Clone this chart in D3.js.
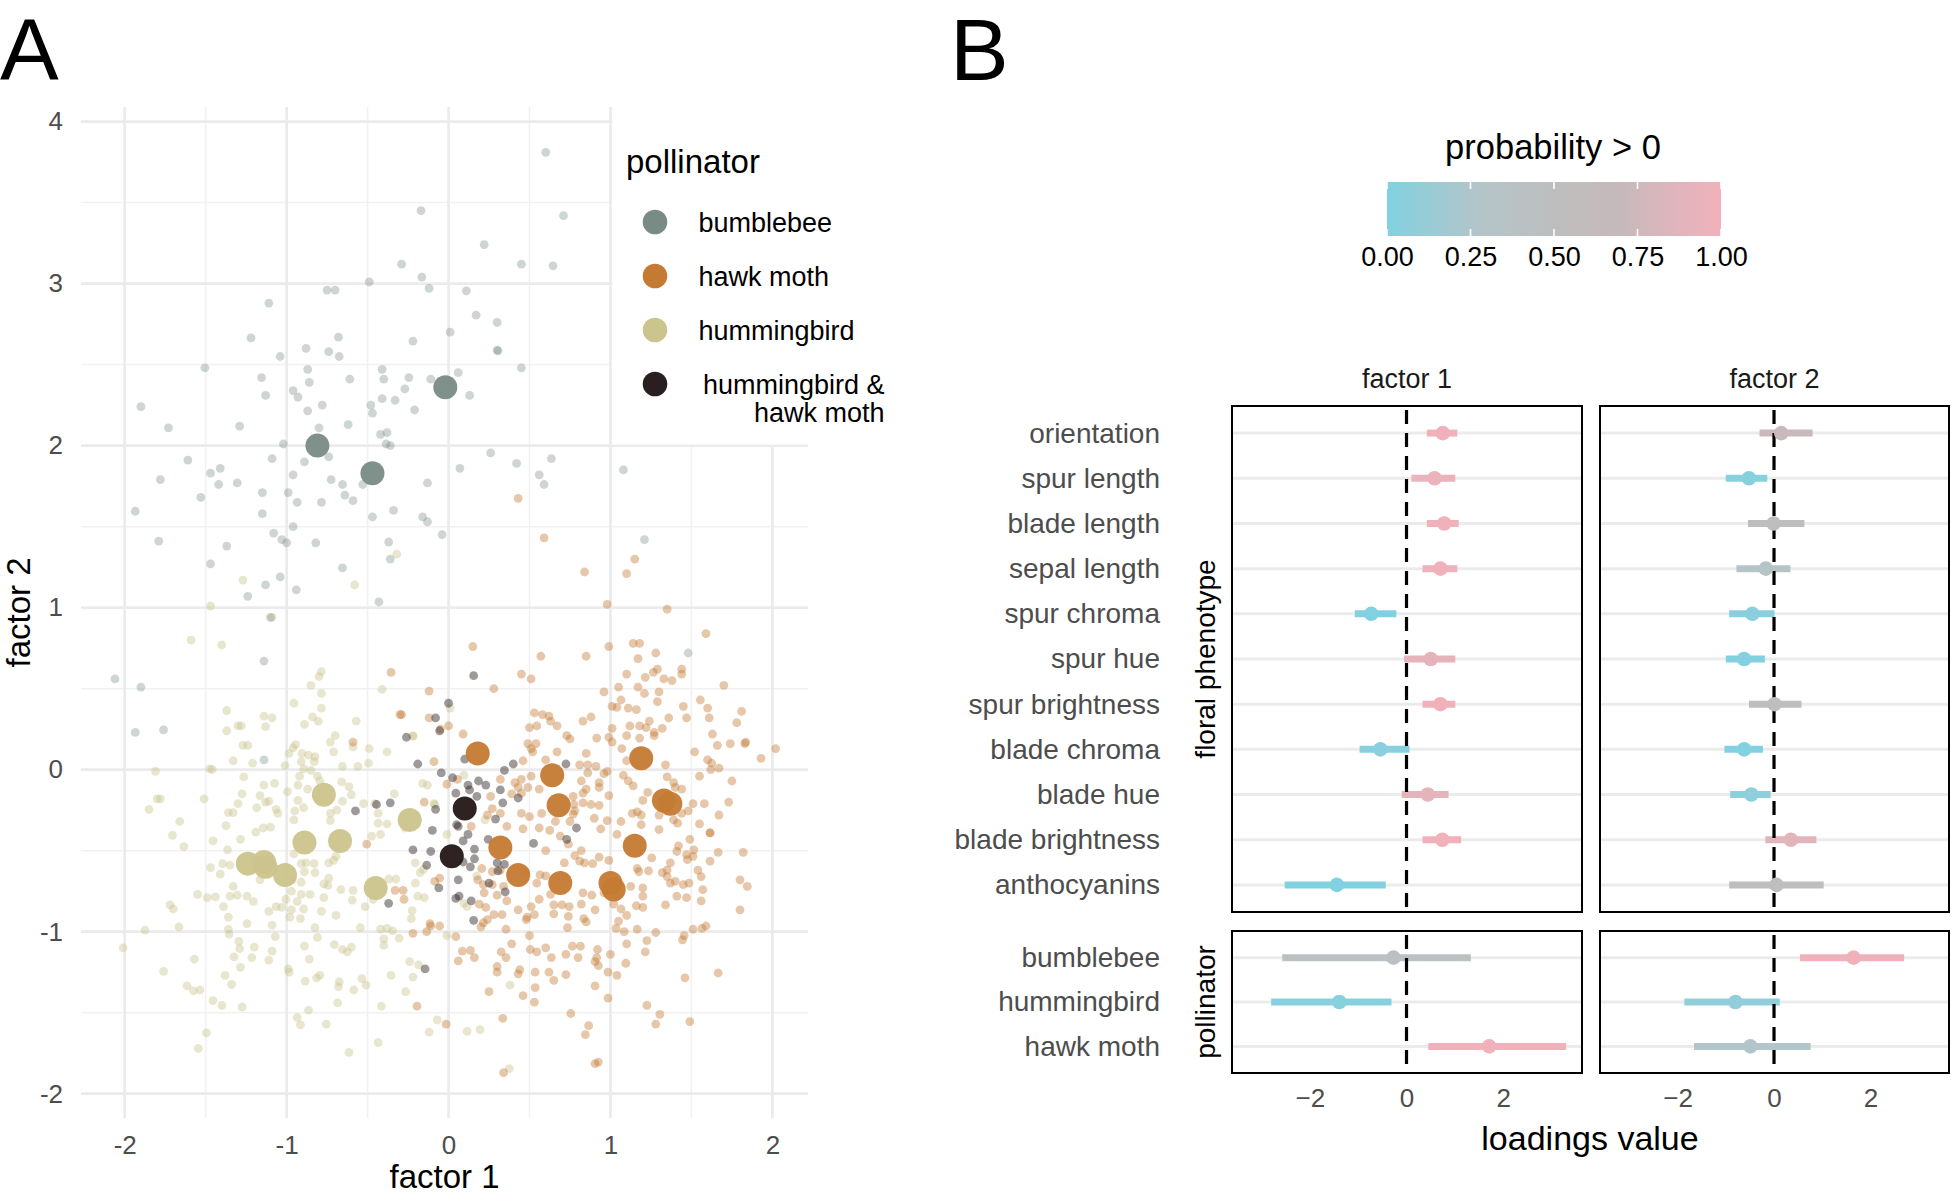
<!DOCTYPE html>
<html><head><meta charset="utf-8">
<script src="https://cdn.jsdelivr.net/npm/d3@7"></script>
<style>body{margin:0;background:#fff} text{font-family:"Liberation Sans",Arial,Helvetica,sans-serif}</style>
</head><body><svg id="c" width="1951" height="1195"></svg>
<script>
// ---------------- DATA: panel A ----------------
const pollinatorGroups = ["bumblebee","hawk moth","hummingbird","hummingbird &\nhawk moth"];
const groupColors = ["#788b84","#c47a32","#cbc48c","#2a1e1e"];
const xTicksA = [-2,-1,0,1,2];
const yTicksA = [-2,-1,0,1,2,3,4];

const bumblebeeMeans = [[-0.81,2.00],[-0.47,1.83],[-0.02,2.36]];
const hawkMothMeans = [[0.18,0.10],[0.64,-0.035],[0.68,-0.22],[1.19,0.07],[1.33,-0.19],[1.37,-0.21],[0.32,-0.48],[0.43,-0.65],[0.69,-0.70],[1.00,-0.70],[1.02,-0.74],[1.15,-0.47]];
const hummingbirdMeans = [[-0.77,-0.155],[-0.24,-0.31],[-1.24,-0.58],[-1.14,-0.57],[-1.13,-0.60],[-1.01,-0.65],[-0.89,-0.45],[-0.67,-0.44],[-0.45,-0.73]];
const mixedMeans = [[0.10,-0.24],[0.02,-0.535]];

const bumblebeePts = [[-0.17,3.45],[-0.29,3.12],[-0.49,3.01],[-0.165,3.04],[-0.12,2.97],[-0.75,2.96],[-0.70,2.96],[-1.11,2.88],[-1.22,2.665],[-0.68,2.67],[0.01,2.70],[-0.22,2.645],[-0.88,2.60],[-0.74,2.58],[-0.675,2.55],[-1.04,2.55],[-1.505,2.48],[-0.41,2.47],[-0.87,2.47],[-1.155,2.42],[-0.61,2.41],[-0.40,2.41],[-0.245,2.42],[-0.11,2.41],[0.06,2.45],[-0.86,2.39],[-0.96,2.34],[-0.93,2.30],[-1.13,2.31],[-0.27,2.35],[-0.41,2.29],[-0.33,2.28],[-1.90,2.24],[-0.78,2.25],[-0.48,2.25],[-0.87,2.215],[-0.47,2.20],[-0.21,2.22],[-1.73,2.11],[-1.29,2.12],[-0.80,2.11],[-0.62,2.13],[-0.42,2.07],[-0.38,2.08],[-0.385,2.01],[-0.36,2.00],[-1.02,2.01],[-0.74,1.93],[-1.09,1.92],[-0.89,1.90],[-1.61,1.91],[-1.47,1.83],[-1.41,1.86],[-1.78,1.79],[-1.42,1.76],[-1.305,1.77],[-0.96,1.82],[-0.725,1.79],[-0.655,1.76],[-0.53,1.76],[-0.13,1.77],[0.07,1.86],
[0.60,3.81],[0.71,3.42],[0.22,3.24],[0.45,3.12],[0.645,3.11],[0.11,2.955],[0.17,2.805],[0.30,2.76],[0.30,2.59],[0.305,2.585],[0.45,2.48],[0.13,2.31],[0.26,1.955],[0.42,1.89],[0.635,1.92],[0.56,1.82],[0.59,1.76],[1.08,1.85],
[-1.935,1.595],[-1.53,1.68],[-1.15,1.71],[-0.99,1.71],[-0.935,1.65],[-0.785,1.65],[-0.64,1.695],[-0.59,1.66],[-1.15,1.58],[-0.47,1.56],[-0.34,1.60],[-0.16,1.56],[-0.13,1.53],[-0.04,1.45],[-1.79,1.41],[-1.37,1.38],[-1.08,1.46],[-1.03,1.42],[-1.00,1.40],[-0.96,1.50],[-0.82,1.40],[-0.37,1.405],[-0.36,1.30],[-1.47,1.27],[-0.655,1.245],[-1.04,1.19],[-1.13,1.14],[-0.94,1.11],[-1.24,1.07],[-0.43,1.035],[-1.10,0.94],[-1.14,0.67],[-2.06,0.56],[-1.90,0.51],[-1.935,0.23],[-1.76,0.245],[-1.14,0.06],[1.21,1.42],[1.48,0.72]];

const hummingbirdPts = [[-0.32,1.33],[-1.27,1.17],[-0.58,1.14],[-1.47,1.01],[-1.09,0.94],[-1.59,0.80],[-1.40,0.77],[-0.785,0.605],[-0.80,0.575],[-0.85,0.52],[-0.785,0.47],[-0.41,0.495],[-0.955,0.41],[-0.785,0.38],[-1.37,0.365],[-1.14,0.33],[-1.09,0.32],[-0.84,0.325],[-0.89,0.28],[-0.805,0.30],[-0.57,0.30],[-1.30,0.27],[-1.28,0.27],[-1.13,0.265],[-1.37,0.24],[-0.70,0.21],[-0.73,0.17],[-0.22,0.21],[-0.945,0.155],[-0.96,0.135],[-1.27,0.15],[-1.24,0.15],[-0.71,0.11],[-0.59,0.14],[-0.49,0.13],[-0.38,0.11],[-0.985,0.10],[-0.905,0.10],[-0.865,0.09],[-0.825,0.08],[-1.33,0.055],[-1.21,0.04],[-0.91,0.05],[-0.83,0.05],[-0.895,0.005],[-1.01,0.025],[-0.655,0.02],[-0.56,0.02],[-0.495,0.04],[-1.81,-0.01],[-1.475,0.005],[-1.46,0.00],[-1.265,-0.045],[-0.92,-0.04],[-0.85,-0.005],[-0.81,-0.04],[-0.795,-0.07],[-0.66,-0.075],[-0.16,-0.085],[-0.13,-0.095],[-1.14,-0.095],[-1.075,-0.085],[-0.995,-0.135],[-0.93,-0.095],[-0.87,-0.12],[-0.615,-0.105],[-0.60,-0.155],[-0.335,-0.15],[-1.275,-0.15],[-1.165,-0.16],[-1.51,-0.18],[-1.80,-0.18],[-1.78,-0.18],[-1.13,-0.20],[-1.11,-0.195],[-1.30,-0.21],[-1.185,-0.235],[-0.93,-0.19],[-0.655,-0.195],[-0.525,-0.21],[-0.455,-0.21],[-0.09,-0.21],[-1.85,-0.245],[-1.36,-0.265],[-1.33,-0.265],[-1.065,-0.245],[-1.055,-0.27],[-0.95,-0.255],[-0.895,-0.235],[-0.73,-0.27],[-0.69,-0.25],[-0.435,-0.27],[-1.66,-0.32],[-1.375,-0.345],[-0.955,-0.31],[-0.73,-0.315],[-0.435,-0.33],[-0.38,-0.335],[-0.27,-0.36],[-1.19,-0.385],[-1.145,-0.36],[-1.10,-0.355],[-1.705,-0.405],[-0.475,-0.41],[-0.42,-0.40],
[-1.635,-0.475],[-1.455,-0.44],[-1.365,-0.495],[-1.285,-0.43],[-1.47,-0.605],[-1.41,-0.645],[-1.395,-0.58],[-1.35,-0.59],[-0.955,-0.52],[-0.91,-0.58],[-0.88,-0.575],[-0.83,-0.58],[-0.89,-0.63],[-0.825,-0.635],[-0.74,-0.575],[-0.71,-0.56],[-0.695,-0.535],[-0.74,-0.67],[-0.77,-0.705],[-0.745,-0.715],[-1.165,-0.68],[-0.965,-0.68],[-0.91,-0.695],[-1.33,-0.72],[-1.55,-0.77],[-1.49,-0.79],[-1.44,-0.785],[-1.35,-0.78],[-1.305,-0.775],[-1.245,-0.78],[-1.205,-0.815],[-0.97,-0.75],[-0.91,-0.77],[-0.855,-0.77],[-1.005,-0.80],[-0.935,-0.815],[-0.77,-0.79],[-0.665,-0.74],[-0.59,-0.745],[-0.595,-0.805],[-0.515,-0.845],[-0.465,-0.80],[-0.37,-0.675],[-0.325,-0.675],[-0.205,-0.70],[-0.19,-0.78],[-0.15,-0.79],[-0.205,-0.575],[-0.155,-0.615],[-0.175,-0.635],[-1.72,-0.835],[-1.70,-0.86],[-1.39,-0.845],[-1.11,-0.875],[-1.065,-0.845],[-1.03,-0.85],[-0.97,-0.865],[-0.895,-0.86],[-0.785,-0.875],[-0.695,-0.90],[-1.36,-0.91],[-1.245,-0.95],[-0.98,-0.91],[-0.915,-0.92],[-1.665,-0.97],[-1.875,-0.99],[-1.09,-0.96],[-0.825,-0.975],[-0.545,-0.975],[-0.42,-0.985],[-0.38,-0.98],[-0.345,-0.995],[-0.23,-0.92],[-0.225,-0.87],[-0.01,-1.025],[-1.36,-0.985],[-1.355,-1.015],[-1.07,-1.03],[-0.81,-1.035],[-0.40,-1.045],[-0.305,-1.04],[-1.295,-1.06],[-0.40,-1.085],[-1.29,-1.105],[-1.20,-1.095],[-0.89,-1.09],[-0.705,-1.08],[-0.655,-1.11],[-0.625,-1.125],[-0.60,-1.095],[-2.01,-1.10],[-1.57,-1.17],[-1.325,-1.155],[-1.215,-1.16],[-1.11,-1.175],[-1.09,-1.12],[-0.86,-1.17],[-0.24,-1.185],[-0.185,-1.205],[-1.76,-1.245],[-1.285,-1.22],[-0.99,-1.23],[-0.985,-1.25],[-1.38,-1.27],[-0.815,-1.285],[-0.795,-1.27],[-0.535,-1.29],[-0.355,-1.27],[-0.22,-1.28],[-0.885,-1.305],[-0.675,-1.31],[-0.51,-1.33],[-1.615,-1.335],[-1.575,-1.365],[-1.535,-1.36],[-1.34,-1.325],[-0.68,-1.34],[-0.585,-1.36],[-0.265,-1.37],[-1.455,-1.425],[-1.40,-1.455],[-1.275,-1.465],[-0.685,-1.44],[-0.865,-1.485],[-0.415,-1.46],[-0.935,-1.53],[-0.915,-1.575],[-0.755,-1.57],[-0.07,-1.545],[-0.12,-1.62],[-1.495,-1.625],[-1.545,-1.72],[-0.435,-1.685],[-0.615,-1.745],
[0.115,-1.615],[0.195,-1.605],[0.38,-1.33],[0.375,-1.845],[0.095,-0.825],[0.115,-0.845],[0.175,-0.655],[0.01,0.38],[-0.22,0.205],[0.095,-0.035],[-0.085,-0.215],[0.225,-0.31],[-0.01,-0.40]];

const hawkMothPts = [[0.43,1.675],[0.59,1.43],[1.15,1.30],[0.84,1.22],[1.10,1.21],[0.98,1.02],[1.35,0.99],[1.59,0.84],[0.15,0.76],[0.57,0.70],[0.85,0.70],[0.99,0.76],[1.14,0.78],[1.18,0.78],[1.17,0.685],[1.28,0.72],[0.45,0.59],[0.51,0.56],[1.10,0.59],[1.215,0.57],[1.265,0.60],[1.29,0.62],[1.33,0.56],[1.38,0.55],[1.44,0.62],[1.44,0.59],[1.70,0.52],[-0.12,0.485],[0.28,0.50],[0.96,0.48],[1.05,0.51],[1.17,0.51],[1.21,0.47],[1.30,0.48],[1.065,0.43],[1.01,0.39],[1.04,0.385],[1.11,0.38],[1.16,0.37],[1.29,0.42],[1.45,0.39],[1.555,0.43],[1.60,0.38],[1.81,0.36],[0.53,0.35],[0.58,0.34],[0.62,0.33],[0.63,0.30],[0.83,0.30],[0.88,0.325],[1.36,0.32],[1.47,0.32],[1.61,0.32],[1.78,0.29],[-0.12,0.32],[0.00,0.27],[-0.29,0.34],[-0.05,0.25],[0.50,0.26],[0.545,0.27],[0.67,0.27],[1.01,0.255],[1.12,0.27],[1.18,0.27],[1.22,0.26],[1.24,0.30],[1.27,0.21],[1.27,0.23],[1.32,0.255],[1.63,0.22],[0.09,0.22],[0.73,0.21],[0.75,0.19],[0.915,0.195],[0.99,0.20],[1.01,0.17],[1.10,0.21],[1.18,0.195],[0.49,0.16],[0.54,0.16],[0.51,0.13],[0.52,0.11],[1.66,0.15],[1.74,0.16],[1.835,0.17],[1.83,0.16],[2.02,0.13],[1.93,0.07],[1.07,0.13],[0.67,0.11],[0.85,0.10],[0.46,0.055],[0.60,0.06],[-0.09,0.05],[1.10,0.055],[1.34,0.03],[1.52,0.11],[1.60,0.06],[1.625,0.04],[1.67,0.01],[1.62,0.00],[0.81,0.03],[0.86,0.03],[0.91,0.02],[0.86,-0.02],[0.96,-0.025],[0.98,-0.01],[1.08,-0.035],[1.35,-0.045],[1.55,-0.04],[1.75,-0.07],[0.82,-0.07],[0.93,-0.08],[1.11,-0.07],[1.14,-0.10],[1.39,-0.08],[0.41,-0.08],[0.45,-0.06],[0.51,-0.04],[0.43,-0.11],[0.49,-0.11],[0.56,-0.12],[0.32,-0.06],[-0.01,-0.09],[0.055,-0.06],[0.83,-0.145],[0.85,-0.12],[0.93,-0.11],[0.99,-0.16],[1.23,-0.14],[1.40,-0.11],[1.44,-0.12],[0.39,-0.15],[0.45,-0.145],[0.26,-0.165],[-0.15,-0.20],[0.77,-0.165],[0.775,-0.215],[0.83,-0.205],[0.88,-0.215],[0.93,-0.22],[1.20,-0.19],[1.51,-0.21],[1.58,-0.21],[1.73,-0.20],[0.27,-0.24],[0.32,-0.27],[0.24,-0.28],[0.45,-0.27],[0.50,-0.29],[0.575,-0.27],[0.78,-0.255],[0.77,-0.275],[0.90,-0.30],[0.98,-0.315],[1.065,-0.32],[1.135,-0.27],[1.165,-0.26],[1.19,-0.28],[1.30,-0.28],[1.44,-0.27],[1.48,-0.255],[1.55,-0.335],[1.67,-0.28],[1.615,-0.39],[1.39,-0.31],[1.415,-0.33],[1.19,-0.34],[1.30,-0.37],[0.14,-0.35],[0.36,-0.35],[0.46,-0.365],[0.56,-0.36],[0.625,-0.375],[0.66,-0.32],[0.75,-0.32],[0.94,-0.365],[1.04,-0.40],
[0.60,-0.50],[0.69,-0.41],[0.78,-0.53],[0.81,-0.565],[0.84,-0.575],[0.89,-0.58],[0.93,-0.54],[0.99,-0.56],[0.82,-0.50],[0.74,-0.46],[0.715,-0.575],[0.565,-0.65],[0.60,-0.655],[0.475,-0.63],[0.545,-0.70],[0.32,-0.62],[0.27,-0.63],[0.205,-0.61],[0.18,-0.68],[0.215,-0.71],[0.27,-0.71],[0.34,-0.72],[0.22,-0.76],[0.19,-0.83],[0.23,-0.85],[0.30,-0.775],[0.36,-0.81],[0.28,-0.895],[0.33,-0.895],[0.215,-0.945],[0.20,-0.97],[0.24,-0.925],[0.355,-0.985],[0.43,-0.865],[0.485,-0.91],[0.48,-0.925],[0.53,-0.895],[0.51,-0.845],[0.56,-0.80],[0.65,-0.835],[0.63,-0.77],[0.70,-0.835],[0.745,-0.845],[0.83,-0.76],[0.885,-0.775],[0.96,-0.76],[0.82,-0.83],[0.905,-0.865],[0.835,-0.92],[0.85,-0.94],[0.65,-0.89],[0.74,-0.905],[0.735,-0.975],[1.04,-0.78],[1.02,-0.83],[1.065,-0.86],[1.10,-0.90],[1.16,-0.84],[1.20,-0.78],[1.20,-0.85],[1.05,-0.935],[1.035,-0.98],[1.085,-1.00],[1.165,-0.985],[1.28,-1.005],[1.34,-0.835],[1.41,-0.78],[1.47,-0.79],[1.56,-0.81],[1.57,-0.74],[1.45,-0.71],[1.485,-0.70],[1.37,-0.70],[1.35,-0.66],[1.40,-0.69],[1.35,-0.62],[1.37,-0.575],[1.32,-0.635],[1.235,-0.625],[1.175,-0.63],[1.165,-0.61],[1.255,-0.545],[1.125,-0.72],[1.20,-0.73],[1.475,-0.555],[1.51,-0.535],[1.47,-0.525],[1.41,-0.505],[1.42,-0.47],[1.515,-0.495],[1.49,-0.43],[1.615,-0.565],[1.665,-0.51],[1.615,-0.39],[1.82,-0.51],[1.80,-0.68],[1.845,-0.72],[1.54,-0.62],[1.56,-0.66],[1.80,-0.865],[1.51,-0.985],[1.565,-0.98],[1.59,-0.965],[1.455,-1.025],[1.445,-1.05],[1.225,-1.055],[1.10,-1.075],[1.215,-1.125],[1.00,-1.14],[1.095,-1.195],[0.92,-1.11],[0.915,-1.16],[0.925,-1.21],[0.905,-1.185],[0.815,-1.09],[0.765,-1.09],[0.80,-1.16],[0.725,-1.14],[0.635,-1.16],[0.60,-1.10],[0.545,-1.125],[0.505,-1.11],[0.50,-1.025],[0.39,-1.075],[0.355,-1.16],[0.325,-1.125],[0.30,-1.215],[0.30,-1.25],[0.43,-1.26],[0.44,-1.235],[0.535,-1.25],[0.62,-1.25],[0.65,-1.30],[0.725,-1.265],[0.535,-1.345],[0.46,-1.395],[0.53,-1.435],[0.25,-1.37],[0.085,-1.12],[0.06,-1.18],[0.135,-1.115],[0.16,-1.16],[0.045,-1.03],[-0.11,-0.965],[-0.22,-1.01],[-0.055,-0.965],[0.905,-1.335],[0.985,-1.25],[1.04,-1.27],[0.985,-1.41],[1.46,-1.285],[1.665,-1.255],[1.225,-1.455],[1.305,-1.51],[1.28,-1.57],[1.49,-1.555],[0.755,-1.505],[0.865,-1.58],[0.845,-1.635],[0.925,-1.805],[0.905,-1.815],[0.335,-1.535],[0.34,-1.87],[-0.015,-1.57],[-0.195,-1.46],
[-0.505,-0.46],[-0.33,-0.745],[-0.28,-0.745],[-0.275,-0.80],[-0.085,-0.69],[-0.055,-0.67],[-0.115,-0.95],[-0.135,-1.00],[-0.355,0.60],[-0.30,0.34],[-0.59,0.17]];

const mixedPts = [[0.00,0.41],[-0.08,0.32],[-0.055,0.24],[-0.26,0.20],[-0.19,0.035],[-0.045,-0.02],[0.025,-0.05],[0.045,-0.145],[-0.445,-0.215],[-0.36,-0.205],[-0.575,-0.255],[-0.08,-0.245],[-0.10,-0.375],[0.05,-0.34],[0.155,0.58],[0.10,0.065],[0.40,0.035],[0.345,-0.005],[0.725,0.035],[0.12,-0.095],[0.13,-0.125],[0.185,-0.07],[0.23,-0.095],[0.175,-0.165],[0.32,-0.125],[0.43,-0.175],[0.335,-0.205],[0.29,-0.305],[0.06,-0.35],[0.79,-0.36],[0.12,-0.40],[-0.22,-0.495],[-0.11,-0.505],[-0.135,-0.59],[-0.06,-0.73],[0.045,-0.795],[-0.37,-0.825],[-0.145,-1.23],[0.06,-0.68],[0.09,-0.44],[0.16,-0.49],[0.09,-0.57],[0.16,-0.55],[0.135,-0.60],[0.30,-0.575],[0.345,-0.585],[0.305,-0.625],[0.525,-0.455],[0.73,-0.43],[0.25,-0.70],[0.065,-0.78],[0.14,-0.81],[0.155,-0.93],[0.35,-0.755],[0.245,-0.43]];

// ---------------- DATA: panel B ----------------
const phenotypes = ["orientation","spur length","blade length","sepal length","spur chroma","spur hue","spur brightness","blade chroma","blade hue","blade brightness","anthocyanins"];
const pollinators = ["bumblebee","hummingbird","hawk moth"];
const facets = ["factor 1","factor 2"];
// [lower, estimate, upper]
const factor1Phenotype = [[0.42,0.75,1.05],[0.10,0.58,1.01],[0.42,0.78,1.08],[0.33,0.70,1.05],[-1.07,-0.73,-0.21],[-0.05,0.50,1.01],[0.33,0.70,1.01],[-0.97,-0.54,0.06],[-0.10,0.44,0.87],[0.33,0.74,1.13],[-2.52,-1.44,-0.43]];
const factor1PhenotypeProb = [0.99,0.95,0.99,0.99,0.01,0.92,0.99,0.04,0.90,0.99,0.00];
const factor2Phenotype = [[-0.30,0.15,0.80],[-1.00,-0.52,-0.14],[-0.54,-0.01,0.63],[-0.78,-0.17,0.34],[-0.93,-0.45,0.01],[-1.00,-0.62,-0.19],[-0.52,0.01,0.57],[-1.03,-0.62,-0.23],[-0.91,-0.47,-0.07],[-0.18,0.35,0.88],[-0.93,0.05,1.03]];
const factor2PhenotypeProb = [0.72,0.03,0.50,0.30,0.04,0.01,0.50,0.01,0.06,0.88,0.53];
const factor1Pollinator = [[-2.57,-0.27,1.33],[-2.80,-1.39,-0.31],[0.45,1.71,3.30]];
const factor1PollinatorProb = [0.42,0.03,0.99];
const factor2Pollinator = [[0.54,1.65,2.70],[-1.86,-0.80,0.12],[-1.66,-0.49,0.76]];
const factor2PollinatorProb = [0.99,0.08,0.28];
const xTicksB = [-2,0,2];
const probTicks = [0,0.25,0.5,0.75,1];

// ---------------- DRAW ----------------
const FONT = '"Liberation Sans",Arial,Helvetica,sans-serif';
const svg = d3.select("#c");
svg.append("rect").attr("width",1951).attr("height",1195).attr("fill","#fff");

function styleAxis(g, size, color){
  g.attr("font-size",null).attr("font-family",null);
  g.select(".domain").remove();
  g.selectAll(".tick line").remove();
  g.selectAll("text").attr("font-size",size).attr("fill",color).attr("font-family",FONT);
}

// ===== Panel A =====
const xA = d3.scaleLinear().domain([-2.27,2.22]).range([81,808]);
const yA = d3.scaleLinear().domain([-2.15,4.09]).range([1118,107]);
const gA = svg.append("g");
const minorX = d3.range(-1.5,2.0,1), minorY = d3.range(-1.5,4.0,1);
gA.selectAll("line.mx").data(minorX).join("line").attr("x1",d=>xA(d)).attr("x2",d=>xA(d)).attr("y1",107).attr("y2",1118).attr("stroke","#f1f1f1").attr("stroke-width",1.5);
gA.selectAll("line.my").data(minorY).join("line").attr("y1",d=>yA(d)).attr("y2",d=>yA(d)).attr("x1",81).attr("x2",808).attr("stroke","#f1f1f1").attr("stroke-width",1.5);
gA.selectAll("line.Mx").data(xTicksA).join("line").attr("x1",d=>xA(d)).attr("x2",d=>xA(d)).attr("y1",107).attr("y2",1118).attr("stroke","#ebebeb").attr("stroke-width",2.7);
gA.selectAll("line.My").data(yTicksA).join("line").attr("y1",d=>yA(d)).attr("y2",d=>yA(d)).attr("x1",81).attr("x2",808).attr("stroke","#ebebeb").attr("stroke-width",2.7);
// legend background (inside panel)
gA.append("rect").attr("x",612.5).attr("y",100).attr("width",205).attr("height",344.5).attr("fill","#fff");

function drawPts(data, color, r, op){
  gA.append("g").selectAll("circle").data(data).join("circle")
    .attr("cx",d=>xA(d[0])).attr("cy",d=>yA(d[1])).attr("r",r)
    .attr("fill",color).attr("fill-opacity",op);
}
drawPts(hummingbirdPts, groupColors[2], 4.4, 0.42);
drawPts(bumblebeePts, groupColors[0], 4.4, 0.36);
drawPts(hawkMothPts, groupColors[1], 4.4, 0.42);
drawPts(mixedPts, groupColors[3], 4.4, 0.45);
drawPts(hummingbirdMeans, groupColors[2], 12, 0.95);
drawPts(bumblebeeMeans, groupColors[0], 12, 0.95);
drawPts(hawkMothMeans, groupColors[1], 12, 0.95);
drawPts(mixedMeans, groupColors[3], 12, 0.98);

const axXA = gA.append("g").attr("transform","translate(0,1118)")
  .call(d3.axisBottom(xA).tickValues(xTicksA).tickSize(0).tickPadding(18).tickFormat(d=>String(d)));
styleAxis(axXA, 26, "#4d4d4d");
const axYA = gA.append("g").attr("transform","translate(81,0)")
  .call(d3.axisLeft(yA).tickValues(yTicksA).tickSize(0).tickPadding(18).tickFormat(d=>String(d)));
styleAxis(axYA, 26, "#4d4d4d");
gA.append("text").attr("x",444.5).attr("y",1188).attr("text-anchor","middle").attr("font-size",33).attr("fill","#000").text("factor 1");
gA.append("text").attr("transform","translate(30,612.5) rotate(-90)").attr("text-anchor","middle").attr("font-size",33).attr("fill","#000").text("factor 2");

// legend
const leg = gA.append("g");
leg.append("text").attr("x",626).attr("y",173).attr("font-size",33).attr("fill","#000").text("pollinator");
const legY = d3.scalePoint().domain(pollinatorGroups).range([222,384]);
leg.selectAll("circle").data(pollinatorGroups).join("circle")
  .attr("cx",655).attr("cy",d=>legY(d)).attr("r",12.3).attr("fill",(d,i)=>groupColors[i]);
pollinatorGroups.forEach((d,i)=>{
  const lines = d.split("\n");
  if(lines.length===1){
    leg.append("text").attr("x",698.5).attr("y",legY(d)+9.5).attr("font-size",27).attr("fill","#000").text(d);
  } else {
    const t = leg.append("text").attr("font-size",27).attr("fill","#000").attr("text-anchor","end");
    t.append("tspan").attr("x",884.5).attr("y",legY(d)+9.5).text(lines[0]);
    t.append("tspan").attr("x",884.5).attr("y",legY(d)+37.5).text(lines[1]);
  }
});

// panel letters
svg.append("text").attr("x",0).attr("y",80).attr("font-size",88).attr("fill","#000").text("A");
svg.append("text").attr("x",950).attr("y",80).attr("font-size",88).attr("fill","#000").text("B");

// ===== Panel B =====
const probColor = d3.scaleLinear().domain([0,0.3,0.5,0.7,1])
  .range(["#80d1e1","#b5c4c7","#bebebe","#c6b9bc","#f2b1bb"]).interpolate(d3.interpolateLab);

// colourbar
const xCB = d3.scaleLinear().domain([0,1]).range([1387,1721]);
const defs = svg.append("defs");
const grad = defs.append("linearGradient").attr("id","pg").attr("x1","0%").attr("x2","100%").attr("y1","0%").attr("y2","0%");
d3.range(0,1.0001,0.05).forEach(t=>grad.append("stop").attr("offset",(t*100)+"%").attr("stop-color",probColor(t)));
svg.append("text").attr("x",1553).attr("y",159).attr("text-anchor","middle").attr("font-size",34.5).attr("fill","#000").text("probability > 0");
svg.append("rect").attr("x",xCB(0)).attr("y",182).attr("width",xCB(1)-xCB(0)).attr("height",54).attr("fill","url(#pg)");
const cbT = svg.append("g");
cbT.selectAll("line.t").data(probTicks).join("line").attr("x1",d=>xCB(d)).attr("x2",d=>xCB(d)).attr("y1",182).attr("y2",189).attr("stroke","#fff").attr("stroke-width",1.6);
cbT.selectAll("line.b").data(probTicks).join("line").attr("x1",d=>xCB(d)).attr("x2",d=>xCB(d)).attr("y1",229).attr("y2",236).attr("stroke","#fff").attr("stroke-width",1.6);
const axCB = svg.append("g").attr("transform","translate(0,236)")
  .call(d3.axisBottom(xCB).tickValues(probTicks).tickSize(0).tickPadding(11).tickFormat(d3.format(".2f")));
styleAxis(axCB, 27, "#000");

const xB = [d3.scaleLinear().domain([-3.61,3.63]).range([1232,1582]),
            d3.scaleLinear().domain([-3.61,3.63]).range([1600,1949])];
const yTop = d3.scalePoint().domain(phenotypes).range([406,912]).padding(0.6);
const yBot = d3.scalePoint().domain(pollinators).range([931,1073]).padding(0.6);
const rowsets = [
  {y:yTop, cats:phenotypes, vals:[factor1Phenotype,factor2Phenotype], probs:[factor1PhenotypeProb,factor2PhenotypeProb], y0:406, y1:912},
  {y:yBot, cats:pollinators, vals:[factor1Pollinator,factor2Pollinator], probs:[factor1PollinatorProb,factor2PollinatorProb], y0:931, y1:1073}
];
const gB = svg.append("g");
rowsets.forEach(rs=>{
  facets.forEach((f,fi)=>{
    const x = xB[fi];
    const [r0,r1] = x.range();
    const g = gB.append("g");
    g.selectAll("line.grid").data(rs.cats).join("line")
      .attr("x1",r0).attr("x2",r1).attr("y1",d=>rs.y(d)).attr("y2",d=>rs.y(d))
      .attr("stroke","#ebebeb").attr("stroke-width",3);
    g.selectAll("line.bar").data(rs.vals[fi]).join("line")
      .attr("x1",d=>x(d[0])).attr("x2",d=>x(d[2]))
      .attr("y1",(d,i)=>rs.y(rs.cats[i])).attr("y2",(d,i)=>rs.y(rs.cats[i]))
      .attr("stroke",(d,i)=>probColor(rs.probs[fi][i])).attr("stroke-width",7);
    g.append("line").attr("x1",x(0)).attr("x2",x(0)).attr("y1",rs.y0).attr("y2",rs.y1)
      .attr("stroke","#000").attr("stroke-width",3.2).attr("stroke-dasharray","14,9").attr("stroke-dashoffset",-4);
    g.selectAll("circle").data(rs.vals[fi]).join("circle")
      .attr("cx",d=>x(d[1])).attr("cy",(d,i)=>rs.y(rs.cats[i])).attr("r",7.3)
      .attr("fill",(d,i)=>probColor(rs.probs[fi][i]));
    g.append("rect").attr("x",r0).attr("y",rs.y0).attr("width",r1-r0).attr("height",rs.y1-rs.y0)
      .attr("fill","none").attr("stroke","#000").attr("stroke-width",2);
  });
  const ay = gB.append("g").attr("transform","translate(1232,0)")
    .call(d3.axisLeft(rs.y).tickSize(0).tickPadding(72));
  styleAxis(ay, 28, "#4d4d4d");
});
facets.forEach((f,fi)=>{
  const [r0,r1] = xB[fi].range();
  gB.append("text").attr("x",(r0+r1)/2).attr("y",388).attr("text-anchor","middle").attr("font-size",27).attr("fill","#1a1a1a").text(f);
  const ax = gB.append("g").attr("transform","translate(0,1073)")
    .call(d3.axisBottom(xB[fi]).tickValues(xTicksB).tickSize(0).tickPadding(16).tickFormat(d3.format("d")));
  styleAxis(ax, 26, "#4d4d4d");
});
gB.append("text").attr("transform","translate(1215,659) rotate(-90)").attr("text-anchor","middle").attr("font-size",28).attr("fill","#000").text("floral phenotype");
gB.append("text").attr("transform","translate(1215,1002) rotate(-90)").attr("text-anchor","middle").attr("font-size",28).attr("fill","#000").text("pollinator");
gB.append("text").attr("x",1590).attr("y",1150).attr("text-anchor","middle").attr("font-size",34).attr("fill","#000").text("loadings value");
</script></body></html>
